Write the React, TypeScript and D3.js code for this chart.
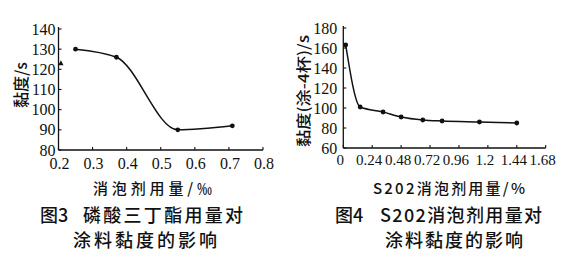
import React from 'react';
import * as d3 from 'd3';

// Figure 3: tributyl phosphate dosage vs viscosity
const fig3Dose = [0.25, 0.37, 0.55, 0.71];
const fig3Visc = [130, 126, 90, 92];
const fig3StrayDose = [0.207];
const fig3StrayVisc = [123];
const fig3XTicks = [0.2, 0.3, 0.4, 0.5, 0.6, 0.7, 0.8];
const fig3XTickLabels = ['0.2', '0.3', '0.4', '0.5', '0.6', '0.7', '0.8'];
const fig3YTicks = [80, 90, 100, 110, 120, 130, 140];

// Figure 4: S202 defoamer dosage vs viscosity
const fig4Dose = [0.02, 0.14, 0.33, 0.48, 0.66, 0.82, 1.13, 1.44];
const fig4Visc = [163, 101, 96, 91, 88, 87, 86, 85];
const fig4XTicks = [0, 0.24, 0.48, 0.72, 0.96, 1.2, 1.44, 1.68];
const fig4XTickLabels = ['0', '0.24', '0.48', '0.72', '0.96', '1.2', '1.44', '1.68'];
const fig4YTicks = [60, 80, 100, 120, 140, 160, 180];

const NUM_FONT = "'Liberation Serif', 'Times New Roman', serif";
const CJK_FONT = "'Noto Sans CJK SC', 'Noto Sans', sans-serif";

type PanelProps = {
  xDomain: [number, number];
  yDomain: [number, number];
  xRange: [number, number];
  yRange: [number, number];
  xs: number[];
  ys: number[];
  xTicks: number[];
  xTickLabels: string[];
  yTicks: number[];
  xLabelDy: number;
  xLabelDx: number;
  xLabelSize: number;
  yLabelGap: number;
};

function Panel(p: PanelProps) {
  const x = d3.scaleLinear().domain(p.xDomain).range(p.xRange);
  const y = d3.scaleLinear().domain(p.yDomain).range(p.yRange);
  const pts: [number, number][] = p.xs.map((v, i) => [x(v), y(p.ys[i])]);
  const line = d3.line().curve(d3.curveMonotoneX)(pts) || '';
  const x0 = p.xRange[0];
  const y0 = p.yRange[0];
  return (
    <g>
      <path d={line} fill="none" stroke="#111" strokeWidth={1.5} />
      {pts.map((d, i) => (
        <circle key={i} cx={d[0]} cy={d[1]} r={2.4} fill="#111" />
      ))}
      <line x1={x0} y1={y0} x2={p.xRange[1]} y2={y0} stroke="#111" strokeWidth={1.3} />
      <line x1={x0} y1={y0} x2={x0} y2={p.yRange[1] - 2} stroke="#111" strokeWidth={1.3} />
      {p.xTicks.map((t, i) => (
        <g key={'xt' + i}>
          <line x1={x(t)} x2={x(t)} y1={y0} y2={y0 - 3} stroke="#111" strokeWidth={1.1} />
          <text
            x={x(t) + p.xLabelDx}
            y={y0 + p.xLabelDy}
            textAnchor="middle"
            style={{ fontFamily: NUM_FONT, fontSize: p.xLabelSize }}
            fill="#111"
          >
            {p.xTickLabels[i]}
          </text>
        </g>
      ))}
      {p.yTicks.map((t, i) => (
        <g key={'yt' + i}>
          <line x1={x0} x2={x0 + 3} y1={y(t)} y2={y(t)} stroke="#111" strokeWidth={1.1} />
          <text
            x={x0 - p.yLabelGap}
            y={y(t) + 5.5}
            textAnchor="end"
            style={{ fontFamily: NUM_FONT, fontSize: 16 }}
            fill="#111"
          >
            {t}
          </text>
        </g>
      ))}
    </g>
  );
}

export default function App() {
  const x3 = d3.scaleLinear().domain([0.2, 0.8]).range([58.5, 263]);
  const y3 = d3.scaleLinear().domain([80, 140]).range([150, 29]);
  const tri = fig3StrayDose.map((v, i) => [x3(v), y3(fig3StrayVisc[i])]);
  const cap = { style: { fontFamily: CJK_FONT, fontSize: 18, fontWeight: 500 }, fill: '#111' } as const;
  const axt = { style: { fontFamily: CJK_FONT, fontSize: 15, fontWeight: 500 }, fill: '#111' } as const;
  return (
    <svg
      width={562}
      height={266}
      style={{ position: 'absolute', left: 0, top: 0, background: '#fff' }}
    >
      <rect width={562} height={266} fill="#fff" />
      <Panel
        xDomain={[0.2, 0.8]}
        yDomain={[80, 140]}
        xRange={[58.5, 263]}
        yRange={[150, 29]}
        xs={fig3Dose}
        ys={fig3Visc}
        xTicks={fig3XTicks}
        xTickLabels={fig3XTickLabels}
        yTicks={fig3YTicks}
        xLabelDy={18.5}
        xLabelDx={1}
        xLabelSize={16}
        yLabelGap={3}
      />
      {tri.map((d, i) => (
        <path
          key={i}
          d={`M${d[0]},${d[1] - 3} L${d[0] + 2.6},${d[1] + 2} L${d[0] - 2.6},${d[1] + 2} Z`}
          fill="#111"
        />
      ))}
      <Panel
        xDomain={[0, 1.68]}
        yDomain={[60, 180]}
        xRange={[343.3, 545.7]}
        yRange={[148, 28]}
        xs={fig4Dose}
        ys={fig4Visc}
        xTicks={fig4XTicks}
        xTickLabels={fig4XTickLabels}
        yTicks={fig4YTicks}
        xLabelDy={17}
        xLabelDx={-3}
        xLabelSize={15}
        yLabelGap={6}
      />

      {/* y-axis titles */}
      <text transform="translate(27,85) rotate(-90)" textAnchor="middle" {...axt} style={{ ...axt.style, fontSize: 16 }}>
        黏度/s
      </text>
      <text
        transform="translate(309,91) rotate(-90)"
        textAnchor="middle"
        {...axt}
        textLength={112}
        lengthAdjust="spacingAndGlyphs"
      >
        黏度(涂-4杯)/s
      </text>

      {/* x-axis titles */}
      <text x={93} y={194} {...axt} textLength={119} lengthAdjust="spacing">
        消泡剂用量/‰
      </text>
      <text x={373} y={194} {...axt} textLength={152} lengthAdjust="spacing">
        S202消泡剂用量/%
      </text>

      {/* captions */}
      <text x={40} y={222} {...cap}>图3</text>
      <text x={83} y={222} {...cap} textLength={160} lengthAdjust="spacing">磷酸三丁酯用量对</text>
      <text x={73} y={247} {...cap} textLength={144} lengthAdjust="spacing">涂料黏度的影响</text>
      <text x={335} y={222} {...cap}>图4</text>
      <text x={380} y={222} {...cap} textLength={162} lengthAdjust="spacing">S202消泡剂用量对</text>
      <text x={385} y={247} {...cap} textLength={138} lengthAdjust="spacing">涂料黏度的影响</text>
    </svg>
  );
}
